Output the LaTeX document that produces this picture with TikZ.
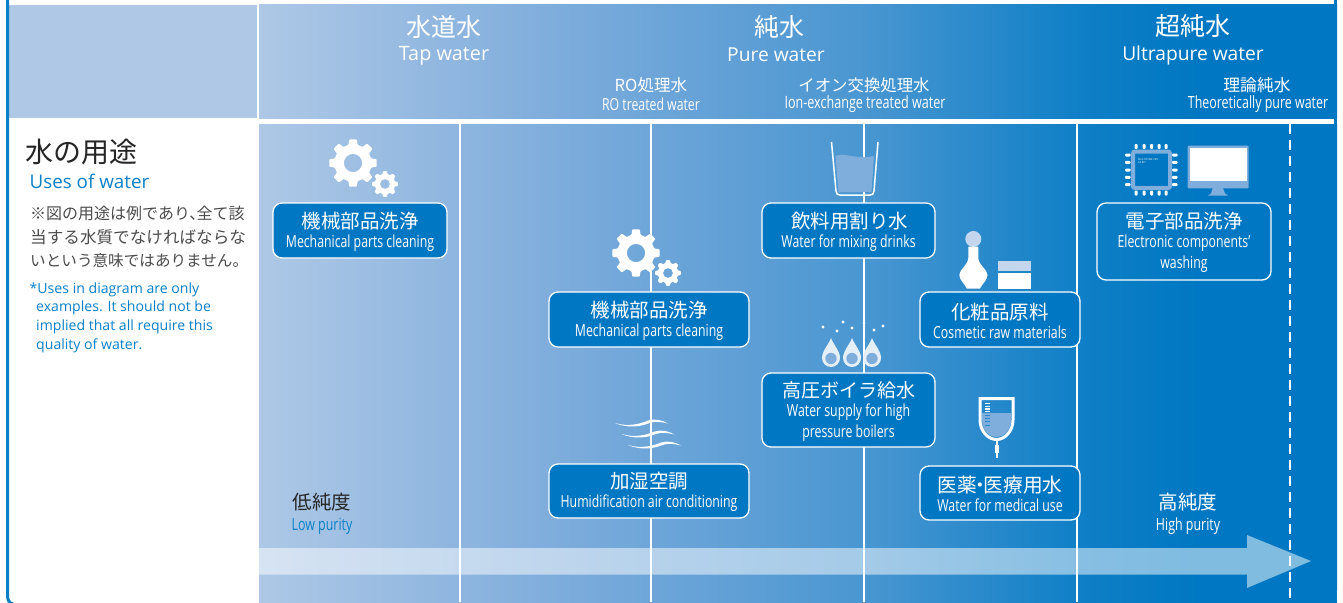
\documentclass[tikz,border=0pt]{standalone}
\usepackage{fontspec}
\usetikzlibrary{shapes.geometric}
\newfontfamily\jpf{Noto Sans CJK JP}
\newfontfamily\latf{Open Sans}
\newfontfamily\condf[FakeStretch=0.74]{Open Sans}
\definecolor{topblue}{HTML}{0077C2}
\definecolor{txtblue}{HTML}{0A80C8}
\definecolor{paleband}{HTML}{AEC8E6}
\definecolor{midwater}{HTML}{80AEDC}
\definecolor{paleicon}{HTML}{C3D6EE}
\pgfdeclarehorizontalshading{purity}{100bp}{rgb(0bp)=(.682,.784,.902); rgb(25bp)=(.682,.784,.902); rgb(38.5bp)=(.498,.678,.863); rgb(53bp)=(.29,.59,.82); rgb(63bp)=(.06,.5,.78); rgb(68.6bp)=(0,.467,.761); rgb(100bp)=(0,.467,.761)}
\newcommand\jps[1]{\jpf\fontsize{#1}{#1}\selectfont}
\newcommand\cnd[1]{\condf\fontsize{#1}{#1}\selectfont}
\newcommand\lts[1]{\latf\fontsize{#1}{#1}\selectfont}
\newcommand\jbx[2][19.5]{{\jps{#1}\rule{0pt}{18.8pt}#2}}
\tikzset{
  usebox/.style={draw=white,line width=1.3pt,fill=topblue,rounded corners=9pt,inner sep=0pt,text=white,align=center},
  txt/.style={inner sep=0pt,text=white,align=center},
  sep/.style={white,line width=1.5pt},
  gearfill/.style={fill=white,even odd rule,rounded corners=0.8pt}
}
\newcommand\gear[3]{% x y scale
  \path[gearfill,shift={(#1,#2)}] (-14:#3*0.78) \foreach \a in {0,45,...,315}{ -- ({\a-14}:#3*0.78) -- ({\a-9}:#3) -- ({\a+9}:#3) -- ({\a+14}:#3*0.78) } -- cycle (0,0) circle[radius=#3*0.38];
}
\newcommand\drop[1]{%
  \fill[white!80!midwater] (#1,338) .. controls (#1+2,344) and (#1+9,351) .. (#1+9,358) arc[start angle=0,end angle=180,radius=9] .. controls (#1-9,351) and (#1-2,344) .. cycle;
  \fill[midwater] (#1,358.5) circle[radius=5.7];
}
\newcommand\wave[2]{%
  \fill[white,shift={(#1,#2)}] (615,423) .. controls (628,427) and (640,424) .. (648,420.5) .. controls (655,418.5) and (662,420) .. (668,423.5) .. controls (660,421.5) and (654,421) .. (648,423.5) .. controls (640,427) and (626,428) .. cycle;
}
\begin{document}
\begin{tikzpicture}[x=1pt,y=-1pt]
\useasboundingbox (0,0) rectangle (1343,602);
\clip (0,0) rectangle (1343,602);
\fill[white] (0,0) rectangle (1343,602);
% bands
\fill[paleband] (9,5) rectangle (257,118);
\shade[shading=purity] (259,5) rectangle (1337,118);
\shade[shading=purity] (259,124) rectangle (1337,602);
% frame
\draw[txtblue,line width=3pt] (7.5,-5) -- (7.5,595) .. controls (7.5,600) and (9,603) .. (13,604);
\fill[topblue] (1334,0) rectangle (1337,602);
\fill[white] (1337,590) rectangle (1343,602);
% vertical lines
\draw[sep] (460,124) -- (460,602);
\draw[sep] (651,124) -- (651,602);
\draw[sep] (864,124) -- (864,602);
\draw[sep] (1077,124) -- (1077,602);
\draw[white,line width=1.5pt,dash pattern=on 10pt off 6pt] (1290,124) -- (1290,602);
% gears
\gear{353}{163}{24}
\gear{385}{184}{13}
\gear{636}{253}{24}
\gear{668}{273}{13}
% glass
\fill[midwater] (835.5,156) .. controls (845,152) and (855,160) .. (874,156) -- (871.5,192) -- (838.5,192) -- cycle;
\draw[white,line width=1.5pt,line join=round] (831.5,142) -- (836,191) .. controls (836.3,194) and (837.5,195) .. (840,195) -- (870,195) .. controls (872.5,195) and (873.7,194) .. (874,191) -- (878,142);
% bottle and jar
\fill[paleicon] (973.3,239) circle[radius=8];
\fill[white] (968.3,246.5) -- (978.3,246.5) -- (978.3,258) .. controls (979,266) and (987.3,269) .. (987.5,275) .. controls (987.5,280) and (982,284) .. (980,288.5) -- (966.7,288.5) .. controls (965,284) and (959.3,280) .. (959.3,275) .. controls (959.5,269) and (967.5,266) .. (968.3,258) -- cycle;
\fill[paleicon] (997.7,261) rectangle (1031,271);
\fill[white] (997.7,273.3) rectangle (1031,288.7);
% drops
\foreach \p/\q in {823/327,837/331,843/322,852/328,864/323,874/330,883/326}{\fill[white] (\p,\q) circle[radius=1.6];}
\drop{831}
\drop{852}
\drop{872}
% waves
\wave{0}{0}
\wave{6.5}{11}
\wave{13}{22}
% IV bag
\fill[midwater] (982,413) -- (1011,413) -- (1011,420) .. controls (1011,430) and (1004,437) .. (996.5,437) .. controls (989,437) and (982,430) .. (982,420) -- cycle;
\draw[white,line width=3pt,line join=miter] (980,398.5) -- (1013,398.5) -- (1013,420) .. controls (1013,431) and (1005,439.5) .. (996.5,439.5) .. controls (988,439.5) and (980,431) .. (980,420) -- cycle;
\foreach \q in {403.5,406.3,409,411.5}{\fill[white] (985,\q-0.7) rectangle (990,\q+0.7);}
\foreach \q in {415,418,421,425}{\fill[topblue!70!midwater] (985,\q-0.5) rectangle (990,\q+0.5);}
\fill[white] (996,440) rectangle (998,445);
\fill[white] (994.5,445) rectangle (999,453);
\fill[white] (996,453) rectangle (998,458);
% chip
\draw[midwater,fill=topblue,line width=4pt,rounded corners=2pt] (1133,151.5) rectangle (1170,188);
\foreach \p in {1136,1144,1151.7,1159,1166}{
  \fill[white,rounded corners=1pt] (\p-1.5,144) rectangle (\p+1.5,149);
  \fill[white,rounded corners=1pt] (\p-1.5,190.5) rectangle (\p+1.5,195.5);}
\foreach \q in {155,162.3,170,177.3,184.7}{
  \fill[white,rounded corners=1pt] (1125,\q-1.5) rectangle (1130.5,\q+1.5);
  \fill[white,rounded corners=1pt] (1172,\q-1.5) rectangle (1177.5,\q+1.5);}
\node[txt,anchor=west] (chipa) at (1138,159.5) {\lts{2.6}MULTICORE CPU};
\node[txt,anchor=west] (chipb) at (1138,163) {\lts{2.6}64 BIT};
% monitor
\fill[midwater,rounded corners=1pt] (1187.7,145.7) rectangle (1248.7,188.3);
\fill[white] (1190,148) rectangle (1247,180.7);
\fill[midwater] (1212.7,188) -- (1223,188) -- (1225,193.5) -- (1228,195.5) -- (1208,195.5) -- (1211,193.5) -- cycle;
% purity arrow
\fill[white,opacity=.5] (259,548) -- (1247,548) -- (1247,535) -- (1311,561) -- (1247,588) -- (1247,574.5) -- (259,574.5) -- cycle;
% header text
\node[txt] (tapj) at (444,27) {\jps{25}水道水};
\node[txt] (tape) at (444,55.5) {\lts{19.8}Tap water};
\node[txt] (purej) at (779,27) {\jps{25}純水};
\node[txt] (puree) at (776,54.5) {\lts{19.2}Pure water};
\node[txt] (ultraj) at (1193,26) {\jps{25}超純水};
\node[txt] (ultrae) at (1193,55.5) {\lts{19.2}Ultrapure water};
\node[txt] (roj) at (651,85) {\jps{16.6}RO処理水};
\node[txt] (roe) at (651,104) {\cnd{16.6}RO treated water};
\node[txt] (ionj) at (864,85) {\jps{16.4}イオン交換処理水};
\node[txt] (ione) at (865,104) {\cnd{17}Ion-exchange treated water};
\node[txt] (theoj) at (1257,85) {\jps{16.8}理論純水};
\node[txt] (theoe) at (1258,104) {\cnd{16.8}Theoretically pure water};
% left column
\node[txt,text=black!85,anchor=west] (usesj) at (25,152) {\jps{28}水の用途};
\node[txt,text=txtblue,anchor=west] (usese) at (29.5,181) {\lts{18.8}Uses of water};
\node[txt,text=black!70,anchor=west] (n1) at (30,213) {\jps{16}※図の用途は例であり、\hspace{-0.55em}全て該};
\node[txt,text=black!70,anchor=west] (n2) at (30,237) {\jps{16.6}当する水質でなければならな};
\node[txt,text=black!70,anchor=west] (n3) at (30,261) {\jps{15.6}いという意味ではありません。};
\node[txt,text=txtblue,anchor=west] (b1) at (29.5,289.5) {\lts{14.1}*Uses in diagram are only};
\node[txt,text=txtblue,anchor=west] (b2) at (36,307.5) {\lts{14.1}examples. It should not be};
\node[txt,text=txtblue,anchor=west] (b3) at (36,326.5) {\lts{14.1}implied that all require this};
\node[txt,text=txtblue,anchor=west] (b4) at (36,345.5) {\lts{14.1}quality of water.};
% use boxes
\node[usebox,minimum width=174pt,minimum height=55pt] (mecha) at (360,230.5) {\jbx{機械部品洗浄}\\[3.5pt]{\cnd{16.6}Mechanical parts cleaning}};
\node[usebox,minimum width=200pt,minimum height=55pt] (mechb) at (649,319.5) {\jbx{機械部品洗浄}\\[3.5pt]{\cnd{16.6}Mechanical parts cleaning}};
\node[usebox,minimum width=173pt,minimum height=55pt] (drink) at (848.5,230.5) {\jbx{\hspace{2pt}飲料用割り水}\\[3.5pt]{\cnd{16.6}Water for mixing drinks}};
\node[usebox,minimum width=160pt,minimum height=55pt] (cosme) at (1000,319.5) {\jbx{化粧品原料}\\[3.5pt]{\cnd{16.6}Cosmetic raw materials}};
\node[usebox,minimum width=173pt,minimum height=74pt] (boil) at (848.5,410) {\jbx[19]{高圧ボイラ給水}\\[3.5pt]{\cnd{16.6}Water supply for high}\\[3.5pt]{\cnd{16.6}pressure boilers}};
\node[usebox,minimum width=200pt,minimum height=54pt] (humid) at (649,491) {\jbx{加湿空調}\\[3.5pt]{\cnd{16.6}Humidification air conditioning}};
\node[usebox,minimum width=160pt,minimum height=54pt] (medic) at (1000,493) {\jbx[19.7]{医薬\hspace{-0.32em}・\hspace{-0.32em}医療用水}\\[3.5pt]{\cnd{16.6}Water for medical use}};
\node[usebox,fill=none,minimum width=174pt,minimum height=77pt] (elec) at (1184,241.5) {\jbx{電子部品洗浄}\\[3.5pt]{\cnd{16.6}Electronic components’}\\[3.5pt]{\cnd{16.6}washing}};
% purity labels
\node[txt,text=black!85] (lowj) at (322,502) {\jps{19.5}低純度};
\node[txt,text=txtblue] (lowe) at (322,526) {\cnd{16.8}Low purity};
\node[txt] (highj) at (1188,502) {\jps{19.5}高純度};
\node[txt] (highe) at (1188,526) {\cnd{16.8}High purity};
\end{tikzpicture}
\end{document}
